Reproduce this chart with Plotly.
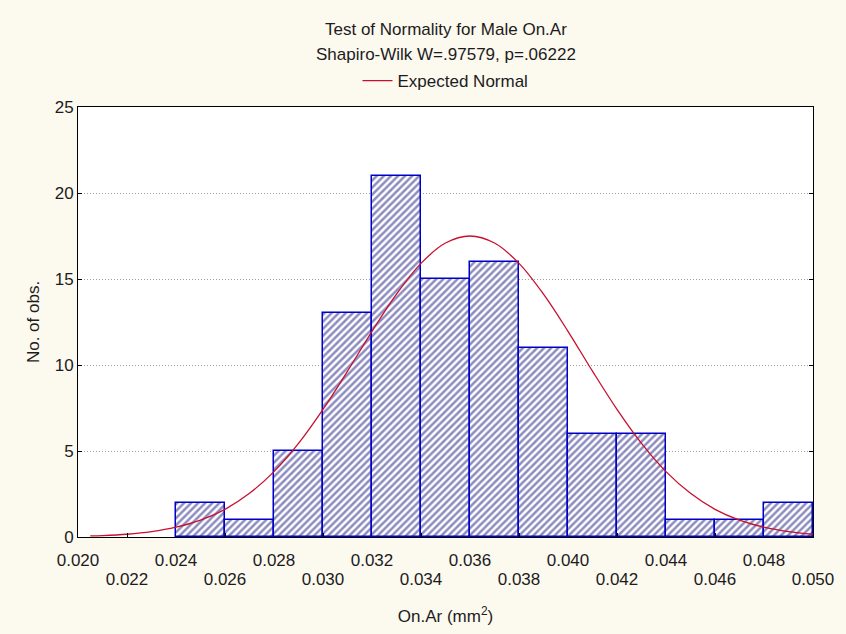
import plotly.graph_objects as go

# ---- data ----
bin_lo = [0.024, 0.026, 0.028, 0.030, 0.032, 0.034, 0.036, 0.038, 0.040, 0.042, 0.044, 0.046, 0.048]
counts = [2, 1, 5, 13, 21, 15, 16, 11, 6, 6, 1, 1, 2]
bin_width = 0.002

curve_x = [0.0205, 0.021, 0.022, 0.023, 0.024, 0.025, 0.026, 0.027, 0.028, 0.029, 0.030,
           0.031, 0.032, 0.033, 0.034, 0.035, 0.036, 0.037, 0.038, 0.039, 0.040, 0.041,
           0.042, 0.043, 0.044, 0.045, 0.046, 0.047, 0.048, 0.049, 0.050]
curve_y = [0.06, 0.08, 0.16, 0.31, 0.57, 0.98, 1.61, 2.54, 3.80, 5.44, 7.42,
           9.64, 11.96, 14.12, 15.91, 17.09, 17.50, 17.09, 15.91, 14.12, 11.96, 9.64,
           7.42, 5.44, 3.80, 2.54, 1.61, 0.98, 0.57, 0.31, 0.16]

x_ticks_top_row = [0.020, 0.024, 0.028, 0.032, 0.036, 0.040, 0.044, 0.048]
x_labels_top_row = ["0.020", "0.024", "0.028", "0.032", "0.036", "0.040", "0.044", "0.048"]
x_ticks_low_row = [0.022, 0.026, 0.030, 0.034, 0.038, 0.042, 0.046, 0.050]
x_labels_low_row = ["0.022", "0.026", "0.030", "0.034", "0.038", "0.042", "0.046", "0.050"]
y_ticks = [0, 5, 10, 15, 20, 25]

title_1 = "Test of Normality for Male On.Ar"
title_2 = "Shapiro-Wilk W=.97579, p=.06222"

FONT = "Liberation Sans, Arial, sans-serif"
TXT = "#1c1c1c"
BG = "#FCF9EF"

fig = go.Figure()
fig.add_trace(go.Bar(
    x=bin_lo, y=counts, width=[bin_width] * len(bin_lo), offset=0,
    marker=dict(color="white",
                line=dict(color="#0000C8", width=1.5),
                pattern=dict(shape="/", fgcolor="#1A1A80", bgcolor="white",
                             size=5, solidity=0.5)),
    showlegend=False, hoverinfo="skip",
))
fig.add_trace(go.Scatter(
    x=curve_x, y=curve_y, mode="lines", name="Expected Normal",
    line=dict(color="#C8102E", width=1.3, shape="spline"),
))
# invisible trace so the second (lower-row) x axis is drawn
fig.add_trace(go.Scatter(
    x=[0.020, 0.050], y=[0, 0], xaxis="x2", mode="lines",
    line=dict(width=0), showlegend=False, hoverinfo="skip",
))

fig.update_layout(
    width=846, height=634,
    margin=dict(l=78, r=29, t=107, b=97),
    paper_bgcolor=BG, plot_bgcolor="white",
    font=dict(family=FONT, size=17, color=TXT),
    bargap=0,
    showlegend=True,
    legend=dict(orientation="h", x=0.5, xanchor="center", y=1 + 26 / 430, yanchor="middle",
                bgcolor="rgba(0,0,0,0)", font=dict(size=17, color=TXT),
                itemwidth=30),
    annotations=[
        dict(text=title_1, x=0.5, xref="paper", y=1 + 78 / 430, yref="paper",
             xanchor="center", yanchor="middle", showarrow=False,
             font=dict(size=17, color=TXT, family=FONT)),
        dict(text=title_2, x=0.5, xref="paper", y=1 + 52 / 430, yref="paper",
             xanchor="center", yanchor="middle", showarrow=False,
             font=dict(size=17, color=TXT, family=FONT)),
    ],
    xaxis=dict(
        range=[0.020, 0.050], tickvals=x_ticks_top_row, ticktext=x_labels_top_row,
        showgrid=False, zeroline=False,
        showline=True, linecolor="black", linewidth=1, mirror=True,
        ticks="", ticklabelstandoff=8,
        title=dict(text="On.Ar (mm<sup>2</sup>)", standoff=40, font=dict(size=17)),
    ),
    xaxis2=dict(
        range=[0.020, 0.050], overlaying="x", side="bottom", anchor="y",
        tickvals=x_ticks_low_row, ticktext=x_labels_low_row,
        showgrid=False, zeroline=False, showline=False,
        ticks="inside", ticklen=4, tickcolor="black", ticklabelstandoff=30,
    ),
    yaxis=dict(
        range=[0, 25], tickvals=y_ticks,
        showgrid=True, gridcolor="#A0A0A0", griddash="1px,2px", gridwidth=1,
        zeroline=False,
        showline=True, linecolor="black", linewidth=1, mirror="ticks",
        ticks="inside", ticklen=4, tickcolor="black",
        title=dict(text="No. of obs.", standoff=10, font=dict(size=17)),
    ),
)

fig.write_html("out.html")
